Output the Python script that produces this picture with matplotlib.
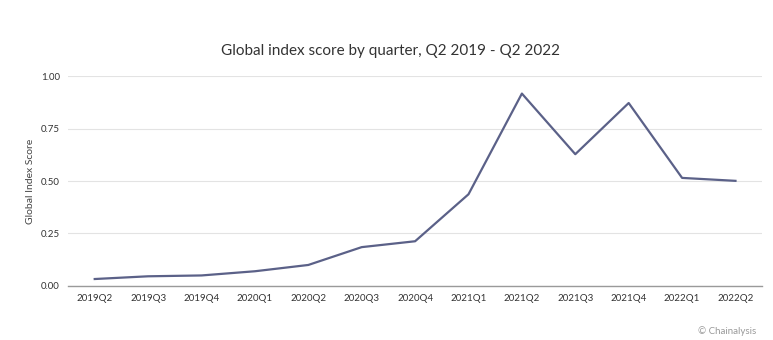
import matplotlib.pyplot as plt

quarters = ["2019Q2", "2019Q3", "2019Q4", "2020Q1", "2020Q2", "2020Q3", "2020Q4",
            "2021Q1", "2021Q2", "2021Q3", "2021Q4", "2022Q1", "2022Q2"]
index_score = [0.033, 0.046, 0.050, 0.070, 0.100, 0.185, 0.213,
               0.437, 0.917, 0.628, 0.872, 0.515, 0.501]
y_ticks = [0.0, 0.25, 0.5, 0.75, 1.0]

plt.rcParams['font.family'] = ['Lato', 'DejaVu Sans']

fig = plt.figure(figsize=(7.73, 3.4), dpi=100)
ax = fig.add_axes([0.088, 0.159, 0.898, 0.617])

x = range(len(quarters))
ax.plot(x, index_score, color='#5b6188', linewidth=1.6, clip_on=False)

ax.set_xlim(-0.5, len(quarters) - 0.5)
ax.set_ylim(0, 1.0)
ax.set_xticks(list(x))
ax.set_xticklabels(quarters)
ax.set_yticks(y_ticks)
ax.set_yticklabels([f"{v:.2f}" for v in y_ticks])

ax.grid(axis='y', color='#e3e3e3', linewidth=0.8)
ax.set_axisbelow(True)
for side in ['top', 'right', 'left']:
    ax.spines[side].set_visible(False)
ax.spines['bottom'].set_color('#9a9a9a')
ax.spines['bottom'].set_linewidth(1.0)

ax.tick_params(axis='both', length=0, labelsize=7, colors='#333333')
ax.tick_params(axis='x', pad=6)
ax.tick_params(axis='y', pad=6)

ax.set_ylabel("Global Index Score", fontsize=7.5, color='#444444', labelpad=4)
fig.text(0.505, 0.85, "Global index score by quarter, Q2 2019 - Q2 2022",
         ha='center', va='center', fontsize=11, color='#333333')
fig.text(0.978, 0.025, "© Chainalysis", ha='right', va='center',
         fontsize=7, color='#999999')

fig.savefig("out.png", dpi=100)
